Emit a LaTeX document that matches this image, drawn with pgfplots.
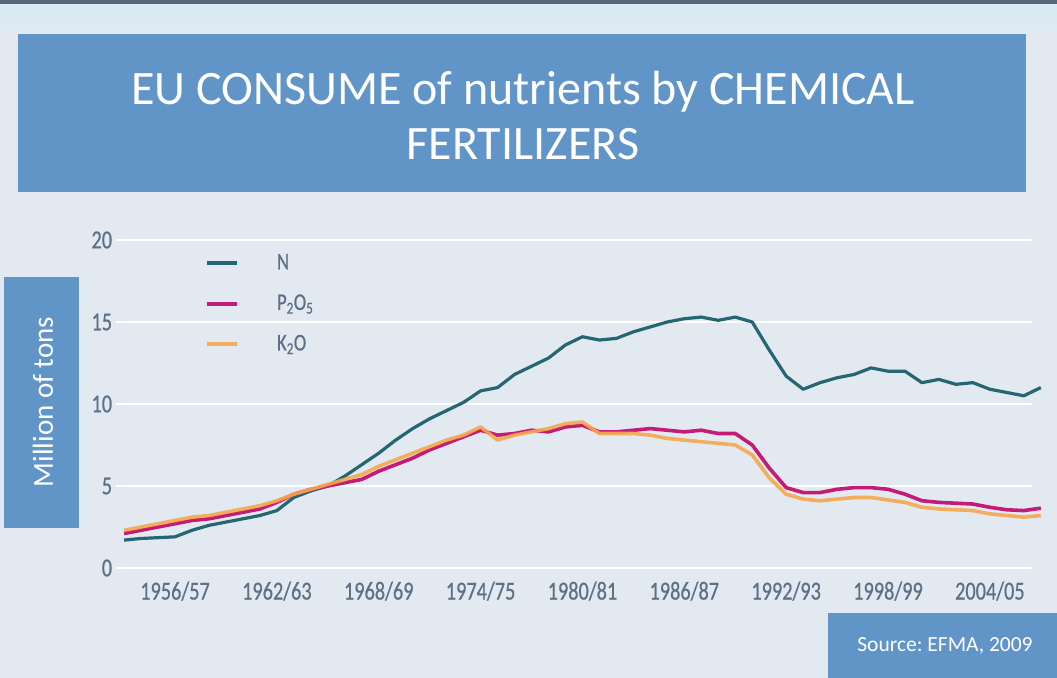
\documentclass[border=0pt]{standalone}
\usepackage{pgfplots}
\pgfplotsset{compat=1.18}
\usepackage{pgfplotstable}
\usepackage{fontspec}
\setmainfont{Carlito}
\newfontfamily\tickfont[FakeStretch=0.78, FakeBold=0.6]{Carlito}
\definecolor{bgcol}{RGB}{227,233,240}
\definecolor{topdark}{RGB}{84,104,120}
\definecolor{toplight}{RGB}{214,235,247}
\definecolor{boxblue}{RGB}{97,149,200}
\definecolor{ncol}{RGB}{36,102,114}
\definecolor{pcol}{RGB}{196,28,118}
\definecolor{kcol}{RGB}{245,168,78}
\definecolor{tickcol}{RGB}{92,112,134}

\pgfplotstableread{
year N P K
1953 1.7 2.1 2.3
1954 1.8 2.3 2.5
1955 1.85 2.5 2.7
1956 1.9 2.7 2.9
1957 2.3 2.9 3.1
1958 2.6 3.0 3.2
1959 2.8 3.2 3.4
1960 3.0 3.4 3.6
1961 3.2 3.6 3.8
1962 3.5 4.0 4.1
1963 4.3 4.5 4.5
1964 4.7 4.8 4.8
1965 5.0 5.0 5.1
1966 5.6 5.2 5.4
1967 6.3 5.4 5.7
1968 7.0 5.9 6.2
1969 7.8 6.3 6.6
1970 8.5 6.7 7.0
1971 9.1 7.2 7.4
1972 9.6 7.6 7.8
1973 10.1 8.0 8.1
1974 10.8 8.4 8.6
1975 11.0 8.1 7.8
1976 11.8 8.2 8.1
1977 12.3 8.4 8.3
1978 12.8 8.3 8.5
1979 13.6 8.6 8.8
1980 14.1 8.7 8.9
1981 13.9 8.3 8.2
1982 14.0 8.3 8.2
1983 14.4 8.4 8.2
1984 14.7 8.5 8.1
1985 15.0 8.4 7.9
1986 15.2 8.3 7.8
1987 15.3 8.4 7.7
1988 15.1 8.2 7.6
1989 15.3 8.2 7.5
1990 15.0 7.5 6.9
1991 13.3 6.1 5.5
1992 11.7 4.9 4.5
1993 10.9 4.6 4.2
1994 11.3 4.6 4.1
1995 11.6 4.8 4.2
1996 11.8 4.9 4.3
1997 12.2 4.9 4.3
1998 12.0 4.8 4.15
1999 12.0 4.5 4.0
2000 11.3 4.1 3.7
2001 11.5 4.0 3.6
2002 11.2 3.95 3.55
2003 11.3 3.9 3.5
2004 10.9 3.7 3.3
2005 10.7 3.55 3.2
2006 10.5 3.5 3.1
2007 11.0 3.65 3.2
}\datatable

\begin{document}
\frenchspacing
\begin{tikzpicture}[x=1bp,y=1bp]
\fill[bgcol] (0,0) rectangle (1057,678);
\shade[top color=toplight, bottom color=bgcol] (0,640) rectangle (1057,674);
\fill[topdark] (0,674) rectangle (1057,678);
% title box
\fill[boxblue] (18,486) rectangle (1026,644);
\node[text=white, font=\fontsize{48bp}{55bp}\selectfont, align=center] at (523,562) {EU CONSUME of nutrients by CHEMICAL\\FERTILIZERS};
% y label box
\fill[boxblue] (4,150) rectangle (79,401);
\node[text=white, rotate=90, font=\fontsize{29bp}{35bp}\selectfont] at (43,276) {Million of tons};
% source box
\fill[boxblue] (828,0) rectangle (1057,65);
\node[text=white, font=\fontsize{21.5bp}{26bp}\selectfont] at (945,32) {Source: EFMA, 2009};

\begin{axis}[
  at={(115.6bp,110bp)}, anchor=south west,
  scale only axis, width=916.7bp, height=328bp,
  xmin=1952.5, xmax=2006.5, ymin=0, ymax=20,
  clip=false,
  axis line style={draw=none},
  major tick length=0pt,
  xtick={1956,1962,1968,1974,1980,1986,1992,1998,2004},
  xticklabels={1956/57,1962/63,1968/69,1974/75,1980/81,1986/87,1992/93,1998/99,2004/05},
  ytick={0,5,10,15,20},
  yticklabels={0,5,10,15,20},
  ymajorgrids, major grid style={white, line width=2bp},
  tick label style={font=\tickfont\fontsize{26bp}{30bp}\selectfont, text=tickcol},
  xticklabel style={yshift=-10bp},
  legend style={at={(0.0975,0.959)}, anchor=north west, draw=none, fill=none,
    inner sep=0pt, outer sep=0pt, row sep=20.5bp,
    font=\tickfont\fontsize{24bp}{28bp}\selectfont, text=tickcol,
    nodes={inner sep=0pt, text height=16bp, text depth=4bp}},
  legend cell align=left,
  legend image code/.code={\draw[#1, line width=4bp] (0bp,0bp) -- (30bp,0bp); \path[draw=none] (0bp,0bp) -- (70bp,0bp);},
]
\addplot[ncol, line width=3.2bp, line join=round] table[x=year, y=N] {\datatable};
\addplot[pcol, line width=3.6bp, line join=round] table[x=year, y=P] {\datatable};
\addplot[kcol, line width=3.6bp, line join=round, opacity=0.9] table[x=year, y=K] {\datatable};
\legend{N, P\textsubscript{2}O\textsubscript{5}, K\textsubscript{2}O}
\end{axis}
\end{tikzpicture}
\end{document}
